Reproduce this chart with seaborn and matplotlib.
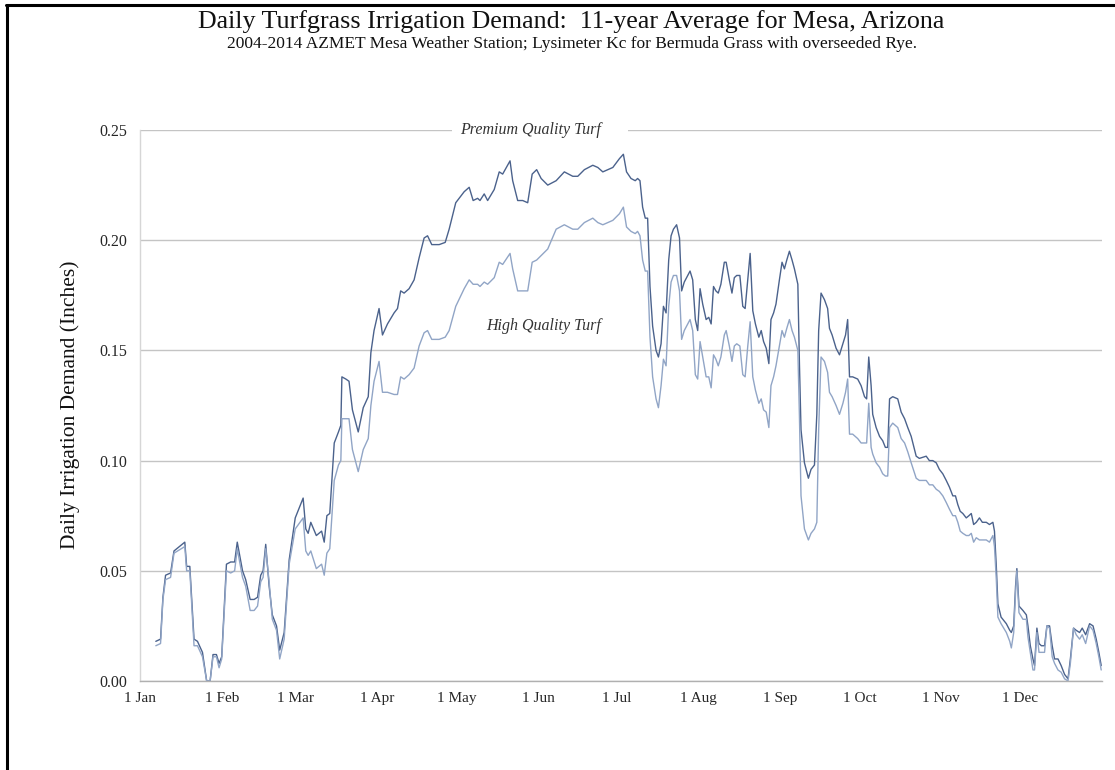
import numpy as np
import pandas as pd
import matplotlib
matplotlib.use("Agg")
import matplotlib.pyplot as plt
import seaborn as sns
from matplotlib.lines import Line2D
from matplotlib.patches import Rectangle

# ---------------- data ----------------
day = [6.0, 7.8, 8.7, 9.7, 11.6, 12.9, 17.0, 17.7, 18.9, 20.5, 21.8, 23.7, 25.3, 26.6, 27.7, 29.0, 30.0, 31.0,
       32.8, 34.4, 35.9, 36.9, 38.9, 40.1, 41.8, 43.3, 44.6, 45.8, 46.7, 47.7, 49.0, 50.2, 51.8, 53.0, 54.7, 56.6,
       58.9, 61.9, 62.9, 63.8, 64.8, 66.9, 68.9, 69.9, 70.9, 72.0, 73.7, 75.3, 76.2, 76.6, 78.1, 79.3, 80.6, 82.8,
       84.7, 86.6, 87.6, 88.8, 90.7, 92.0, 93.9, 96.4, 97.7, 98.9, 100.2, 102.1, 104.0, 105.9, 107.8, 109.1, 110.7,
       113.5, 115.8,
       117.3, 119.8, 123.0, 124.9, 126.4, 128.1, 129.0, 130.6, 131.9, 134.4, 136.3, 137.6, 140.4, 141.4, 143.3,
       145.2, 147.1, 148.8, 150.5, 152.2, 154.7, 157.9, 161.0, 164.2, 166.1, 168.6, 171.8, 173.7, 175.6, 179.4,
       181.9, 183.4, 184.6, 186.3, 187.9, 188.8, 189.7, 190.7, 191.7, 192.6, 193.5, 194.5, 195.8, 196.7, 197.7,
       198.6, 199.6, 200.6, 201.5, 202.4, 203.6, 204.7, 205.5, 206.5, 207.8, 208.7, 209.7, 210.7, 211.6, 212.5,
       213.5, 214.8, 215.8, 216.7, 217.6, 218.5, 219.4, 220.4, 221.7, 222.4, 223.6, 224.6, 225.5, 226.4, 227.6,
       228.7, 229.6, 230.6, 231.5, 232.5, 233.5, 234.8, 235.7, 236.6, 237.6, 238.6, 239.4, 240.4, 241.3,
       242.6, 243.6, 244.5, 245.4, 246.4, 247.4, 248.3, 249.6, 250.2, 250.8, 252.1, 253.6, 254.6, 255.9, 256.8,
       257.5, 258.4, 259.7, 260.9, 261.6, 262.6, 264.1, 265.4, 266.7, 267.7, 268.5, 269.2, 270.4, 272.3, 273.6,
       274.9, 275.7, 276.5, 277.4, 278.0, 279.3, 280.6, 281.8, 282.8, 283.7, 284.4, 285.6, 287.5, 288.8, 290.1,
       291.3, 292.6, 294.5, 295.7, 298.3, 299.5, 300.8, 302.1,
       303.3, 304.6, 305.9, 307.1, 308.4, 309.4, 310.3, 311.2, 312.2, 313.5, 314.5, 315.4, 316.3, 317.3, 318.5,
       319.6, 321.1, 322.3, 323.6, 324.2, 324.9, 325.5, 326.7, 328.7, 330.0, 330.6, 331.5, 332.2, 332.7, 333.5,
       335.0, 336.3, 336.9, 337.8, 338.8, 339.4, 340.3, 341.1, 342.0, 343.2, 344.1, 345.1, 346.1, 347.0, 348.3,
       349.5, 350.8, 352.1, 353.0, 354.2, 355.2, 356.5, 357.5, 358.8, 360.3, 361.6, 362.8, 363.8, 364.7]

premium = [0.018, 0.019, 0.038, 0.048, 0.049, 0.059, 0.063, 0.052, 0.052, 0.019, 0.018, 0.013, 0.000, 0.000, 0.012,
           0.012, 0.008, 0.011, 0.053, 0.054, 0.054, 0.063, 0.050, 0.046, 0.037, 0.037, 0.038, 0.048, 0.050, 0.062,
           0.043, 0.030, 0.025, 0.014, 0.022, 0.055,
           0.074, 0.083, 0.069, 0.067, 0.072, 0.066, 0.068, 0.063, 0.075, 0.076, 0.108, 0.113, 0.116, 0.138, 0.137,
           0.136, 0.123, 0.113, 0.124, 0.129, 0.149, 0.159, 0.169, 0.157, 0.162, 0.167, 0.169, 0.177, 0.176, 0.178,
           0.182, 0.192, 0.201, 0.202, 0.198, 0.198, 0.199,
           0.205, 0.217, 0.222, 0.224, 0.218, 0.219, 0.218, 0.221, 0.218, 0.223, 0.231, 0.230, 0.236, 0.227, 0.218,
           0.218, 0.217, 0.230, 0.232, 0.228, 0.225, 0.227, 0.231, 0.229, 0.229, 0.232, 0.234, 0.233, 0.231, 0.233,
           0.237, 0.239, 0.231, 0.228, 0.227, 0.228, 0.227, 0.215, 0.210, 0.210, 0.179, 0.161, 0.150, 0.147, 0.153,
           0.170, 0.167, 0.191, 0.202, 0.205, 0.207, 0.201, 0.177, 0.181, 0.184, 0.186, 0.182, 0.164, 0.159, 0.178,
           0.171, 0.164, 0.165, 0.162, 0.179, 0.177, 0.176, 0.180, 0.190, 0.190, 0.182, 0.176, 0.183, 0.184, 0.184,
           0.170, 0.169, 0.182, 0.194, 0.168, 0.162, 0.156, 0.159, 0.154, 0.151, 0.144, 0.164, 0.167, 0.171,
           0.182, 0.190, 0.187, 0.191, 0.195, 0.191, 0.187, 0.180, 0.144, 0.114, 0.099, 0.092, 0.096, 0.098, 0.121,
           0.159, 0.176, 0.173, 0.169, 0.160, 0.157, 0.151, 0.148, 0.153, 0.157, 0.164, 0.138, 0.138, 0.137, 0.134,
           0.129, 0.128, 0.147, 0.134, 0.121, 0.115, 0.111, 0.109, 0.106, 0.106, 0.128, 0.129, 0.128, 0.122, 0.119,
           0.115, 0.111, 0.102, 0.101, 0.102, 0.100, 0.100, 0.099,
           0.096, 0.094, 0.091, 0.088, 0.084, 0.084, 0.080, 0.077, 0.076, 0.074, 0.075, 0.076, 0.071, 0.072, 0.074,
           0.072, 0.072, 0.071, 0.072, 0.068, 0.052, 0.035, 0.029, 0.026, 0.023, 0.022, 0.025, 0.043, 0.051, 0.034,
           0.032, 0.030, 0.025, 0.016, 0.010, 0.007, 0.024, 0.017, 0.016, 0.016, 0.025, 0.025, 0.016, 0.010, 0.010,
           0.007, 0.003, 0.001, 0.010, 0.024, 0.023, 0.022, 0.024, 0.021, 0.026, 0.025, 0.019, 0.013, 0.007]

high = [0.016, 0.017, 0.037, 0.046, 0.047, 0.058, 0.061, 0.050, 0.050, 0.016, 0.016, 0.011, 0.000, 0.000, 0.011,
        0.011, 0.006, 0.010, 0.050, 0.049, 0.050, 0.060, 0.047, 0.043, 0.032, 0.032, 0.034, 0.045, 0.047, 0.060,
        0.045, 0.028, 0.023, 0.010, 0.019, 0.053,
        0.069, 0.074, 0.059, 0.057, 0.059, 0.051, 0.053, 0.048, 0.058, 0.060, 0.091, 0.098, 0.100, 0.119, 0.119,
        0.119, 0.105, 0.095, 0.105, 0.110, 0.125, 0.136, 0.145, 0.131, 0.131, 0.130, 0.130, 0.138, 0.137, 0.139,
        0.142, 0.152, 0.158, 0.159, 0.155, 0.155, 0.156,
        0.159, 0.170, 0.178, 0.182, 0.180, 0.180, 0.179, 0.181, 0.180, 0.183, 0.190, 0.189, 0.194, 0.187, 0.177,
        0.177, 0.177, 0.190, 0.191, 0.193, 0.196, 0.205, 0.207, 0.205, 0.205, 0.208, 0.210, 0.208, 0.207, 0.209,
        0.212, 0.215, 0.206, 0.204, 0.203, 0.204, 0.202, 0.191, 0.186, 0.186, 0.156, 0.138, 0.128, 0.124, 0.134,
        0.146, 0.143, 0.170, 0.181, 0.184, 0.184, 0.177, 0.155, 0.159, 0.162, 0.164, 0.159, 0.139, 0.137, 0.154,
        0.147, 0.138, 0.138, 0.133, 0.148, 0.146, 0.143, 0.147, 0.157, 0.159, 0.152, 0.145, 0.152, 0.153, 0.152,
        0.139, 0.138, 0.152, 0.163, 0.138, 0.132, 0.126, 0.128, 0.123, 0.122, 0.115, 0.134, 0.138, 0.143,
        0.152, 0.159, 0.156, 0.160, 0.164, 0.159, 0.156, 0.150, 0.120, 0.084, 0.069, 0.064, 0.067, 0.069, 0.072,
        0.114, 0.147, 0.145, 0.140, 0.131, 0.129, 0.125, 0.121, 0.126, 0.131, 0.137, 0.112, 0.112, 0.110, 0.108,
        0.108, 0.108, 0.126, 0.106, 0.103, 0.099, 0.097, 0.094, 0.093, 0.093, 0.115, 0.117, 0.115, 0.110, 0.108,
        0.104, 0.099, 0.092, 0.091, 0.091, 0.089, 0.089, 0.087,
        0.086, 0.084, 0.081, 0.078, 0.075, 0.075, 0.072, 0.068, 0.067, 0.066, 0.066, 0.067, 0.063, 0.065, 0.064,
        0.064, 0.064, 0.063, 0.066, 0.061, 0.046, 0.029, 0.026, 0.022, 0.018, 0.015, 0.022, 0.040, 0.050, 0.031,
        0.028, 0.028, 0.020, 0.013, 0.005, 0.005, 0.022, 0.013, 0.013, 0.013, 0.025, 0.024, 0.011, 0.008, 0.005,
        0.004, 0.001, 0.000, 0.008, 0.024, 0.021, 0.019, 0.021, 0.017, 0.025, 0.023, 0.017, 0.011, 0.005]

month_starts = [0, 31, 59, 90, 120, 151, 181, 212, 243, 273, 304, 334, 365]
month_labels = ["1 Jan", "1 Feb", "1 Mar", "1 Apr", "1 May", "1 Jun", "1 Jul",
                "1 Aug", "1 Sep", "1 Oct", "1 Nov", "1 Dec", ""]
y_ticks = [0.00, 0.05, 0.10, 0.15, 0.20, 0.25]
series_names = ["Premium Quality Turf", "High Quality Turf"]

# ---------------- figure ----------------
sns.set_style("white")
plt.rcParams["font.family"] = ["Liberation Serif", "DejaVu Serif"]

df = pd.DataFrame({
    "day": day * 2,
    "value": premium + high,
    "series": [series_names[0]] * len(day) + [series_names[1]] * len(day),
})

fig = plt.figure(figsize=(11.15, 7.7), dpi=100)
ax = fig.add_axes([140 / 1115, 1 - 681 / 770, (1102 - 140) / 1115, (681 - 130) / 770])

palette = {series_names[0]: "#4b628c", series_names[1]: "#91a5c6"}
sns.lineplot(data=df, x="day", y="value", hue="series", palette=palette,
             linewidth=1.0, ax=ax, legend=False, estimator=None, sort=False)
for ln in ax.lines:
    ln.set_clip_on(False)

ax.set_xlim(0, 365)
ax.set_ylim(0, 0.25)
ax.set_xticks(month_starts)
ax.set_xticklabels(month_labels)
ax.set_yticks(y_ticks)
ax.set_yticklabels([f"{v:.2f}" for v in y_ticks])
ax.set_xlabel("")
ax.set_ylabel("")

ax.yaxis.grid(True, color="#c4c4c4", linewidth=1.0)
ax.xaxis.grid(False)
ax.set_axisbelow(True)
for s in ["top", "right"]:
    ax.spines[s].set_visible(False)
ax.spines["left"].set_color("#d6d6d6")
ax.spines["bottom"].set_color("#b0b0b0")
ax.spines["left"].set_linewidth(1.0)
ax.spines["bottom"].set_linewidth(1.0)
ax.tick_params(axis="y", length=5, width=1.0, color="#c4c4c4", labelsize=11.5, pad=4)
ax.tick_params(axis="x", length=5, width=1.0, color="#b0b0b0", labelsize=11, pad=3, direction="out")

# white gap in the top gridline behind the premium label
ax.add_patch(Rectangle((118.4, 0.2475), 66.8, 0.005, facecolor="white", edgecolor="none",
                       zorder=4, clip_on=False))
ax.text(148, 0.25, "Premium Quality Turf", ha="center", va="center", style="italic",
        fontsize=11.5, color="#333333", zorder=5)
ax.text(153, 0.161, "High Quality Turf", ha="center", va="center", style="italic",
        fontsize=11.5, color="#333333", zorder=5)

# titles
fig.text(0.512, 0.972, "Daily Turfgrass Irrigation Demand:  11-year Average for Mesa, Arizona",
         ha="center", va="center", fontsize=18.7, color="#111111")
fig.text(0.513, 0.943, "2004-2014 AZMET Mesa Weather Station; Lysimeter Kc for Bermuda Grass with overseeded Rye.",
         ha="center", va="center", fontsize=12.5, color="#111111")
fig.text(0.063, 0.474, "Daily Irrigation Demand (Inches)", rotation=90,
         ha="center", va="center", fontsize=15.5, color="#111111")

# frame lines (top and left)
fig.add_artist(Line2D([0.0055, 1.0], [1 - 5 / 770, 1 - 5 / 770], transform=fig.transFigure,
                      color="black", linewidth=2.2))
fig.add_artist(Line2D([7 / 1115, 7 / 1115], [0.0, 1 - 5 / 770], transform=fig.transFigure,
                      color="black", linewidth=2.2))

fig.savefig("out.png", dpi=100)
